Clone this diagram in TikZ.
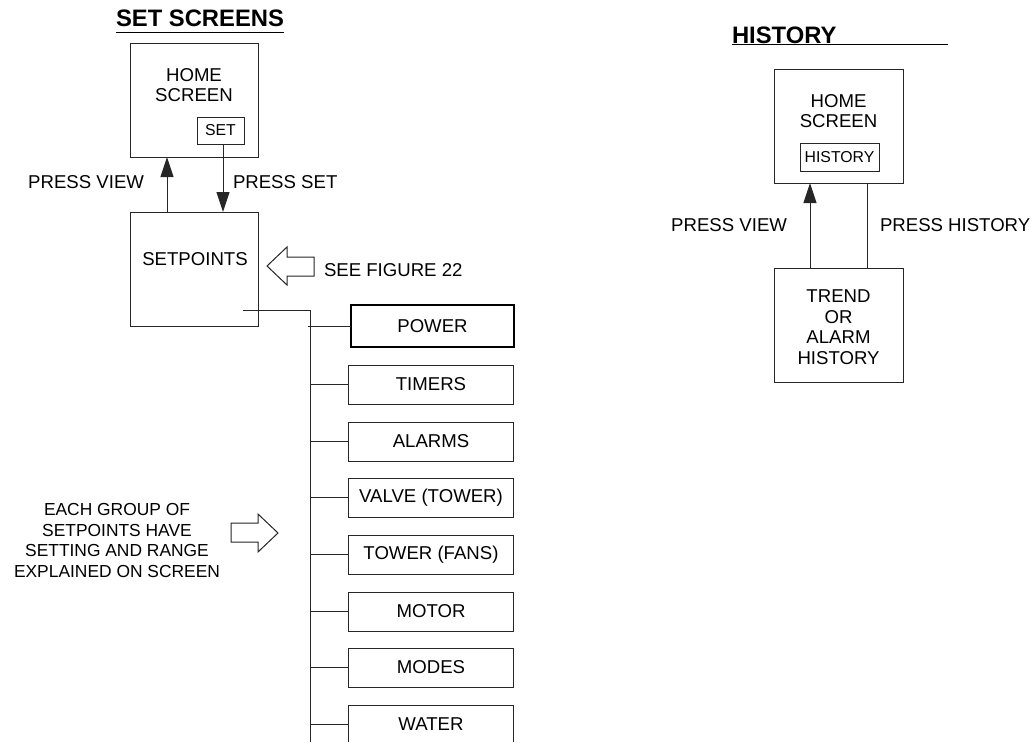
\documentclass[tikz,border=0pt]{standalone}
\usepackage{fontspec}
\setmainfont{Liberation Sans}
\usetikzlibrary{arrows.meta,calc}
\begin{document}
\begin{tikzpicture}[x=1pt,y=-1pt,
  ln/.style={draw=black!85,line width=1pt},
  box/.style={ln,rectangle,inner sep=0pt,outer sep=0pt,anchor=north west},
  lbl/.style={inner sep=0pt,outer sep=0pt,font=\fontsize{18.6}{20.5}\selectfont,align=center,text=black},
  note/.style={inner sep=0pt,outer sep=0pt,font=\fontsize{17.4}{20.5}\selectfont,align=center,text=black},
  small/.style={inner sep=0pt,outer sep=0pt,font=\fontsize{15.8}{18}\selectfont,text=black},
  ttl/.style={inner sep=0pt,outer sep=0pt,font=\fontsize{23.8}{26}\selectfont\bfseries,text=black},
  arr/.style={ln,-{Triangle[length=20pt,width=13pt]}},
  hollow/.style={ln,fill=white},
  listbox/.style={box,minimum width=165pt,minimum height=39pt}
]
\useasboundingbox (0,0) rectangle (1034,742);
\clip (0,0) rectangle (1034,742);

% ---------- SET SCREENS ----------
\node[ttl,anchor=base west] (t1) at (116,26) {SET SCREENS};
\draw[line width=1.4pt] ([yshift=-6.5pt]t1.base west) -- ([yshift=-6.5pt]t1.base east);

\node[box,minimum width=128pt,minimum height=114pt] (homeL) at (130,43) {};
\node[lbl] (homeLt) at (194,85) {HOME\\SCREEN};
\node[box,minimum width=47pt,minimum height=27pt] (setb) at (197,117) {};
\node[small] at (setb.center) {SET};

\node[box,minimum width=128pt,minimum height=114pt] (setp) at (130,212) {};
\node[lbl] (setpt) at (195,259.5) {SETPOINTS};

\coordinate (ux) at (167,0);
\coordinate (dx) at (223,0);
\draw[arr] (setp.north -| ux) -- (homeL.south -| ux);
\draw[arr] (setb.south -| dx) -- (setp.north -| dx);

\node[lbl,anchor=east] (pv1) at (144,182) {PRESS VIEW};
\node[lbl,anchor=west] (ps1) at (233,182) {PRESS SET};

% hollow arrow pointing left
\draw[hollow] (267,266) -- (287,247) -- (287,257) -- (314,257) -- (314,276) -- (287,276) -- (287,285) -- cycle;
\node[lbl,anchor=west] (see) at (324,270) {SEE FIGURE 22};

% hollow arrow pointing right
\draw[hollow] (278,533) -- (258,552) -- (258,542) -- (231,542) -- (231,523) -- (258,523) -- (258,514) -- cycle;
\node[note] (each) at (117,540.5) {EACH GROUP OF\\SETPOINTS HAVE\\SETTING AND RANGE\\EXPLAINED ON SCREEN};

% tree
\coordinate (tstart) at (243,310);
\coordinate (tx) at (310.5,310);
\coordinate (tend) at (310.5,745);
\draw[ln] (tstart) -- (tx) -- (tend);

\node[box,line width=1.7pt,draw=black,minimum width=163pt,minimum height=42pt] (power) at (351,305) {};
\node[lbl] at (power.center) {POWER};
\draw[ln] (power.west -| 308,0) -- (power.west);

\foreach \n/\t/\y in {timers/TIMERS/365, alarms/ALARMS/422, valve/VALVE (TOWER)/478, tower/TOWER (FANS)/535, motor/MOTOR/592, modes/MODES/648, water/WATER/705}{
  \node[listbox] (\n) at (348.5,\y) {};
  \node[lbl] at (\n.center) {\t};
  \draw[ln] (\n.west -| tx) -- (\n.west);
}

% ---------- HISTORY ----------
\node[ttl,anchor=base west] (t2) at (732,43) {HISTORY};
\draw[line width=1.4pt] ([yshift=-1.5pt]t2.base west) -- ++(216,0);

\node[box,minimum width=129pt,minimum height=114pt] (homeR) at (774,69) {};
\node[lbl] (homeRt) at (838.5,111) {HOME\\SCREEN};
\node[box,minimum width=79pt,minimum height=28pt] (histb) at (800,143) {};
\node[small] at (histb.center) {HISTORY};

\node[box,minimum width=129pt,minimum height=114pt] (trend) at (774,268) {};
\node[lbl] (trendt) at (838.5,327) {TREND\\OR\\ALARM\\HISTORY};

\coordinate (rux) at (810,0);
\coordinate (rdx) at (867,0);
\draw[arr] (trend.north -| rux) -- (homeR.south -| rux);
\draw[ln] (homeR.south -| rdx) -- (trend.north -| rdx);

\node[lbl,anchor=east] (pv2) at (787,225.5) {PRESS VIEW};
\node[lbl,anchor=west] (ph2) at (880,225.5) {PRESS HISTORY};
\end{tikzpicture}
\end{document}
